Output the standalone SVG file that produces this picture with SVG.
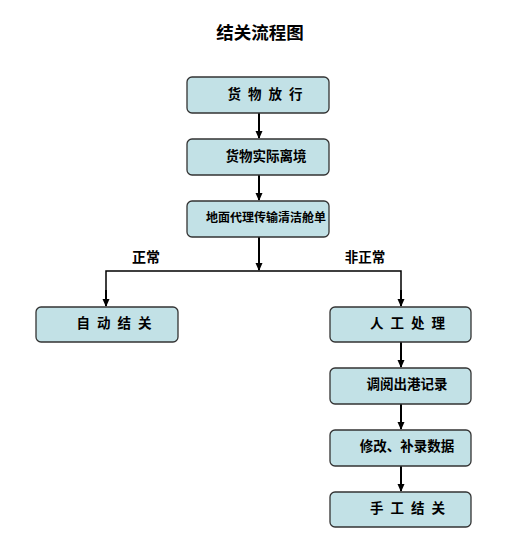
<svg xmlns="http://www.w3.org/2000/svg" width="523" height="560" viewBox="0 0 523 560">
<style>
.box{fill:#c2e1e6;stroke:#333;stroke-width:1.3}
.t{font-family:"Liberation Sans","Noto Sans CJK SC",sans-serif;font-weight:bold;font-size:13.5px;fill:#000;text-anchor:middle;dominant-baseline:central}
.sp{letter-spacing:7px}
.ln{stroke:#000;stroke-width:2;fill:none}
</style>
<defs>
<marker id="ah" markerWidth="8" markerHeight="8" refX="7" refY="4" orient="auto" markerUnits="userSpaceOnUse">
<path d="M0,0.5 L8,4 L0,7.5 z" fill="#000"/>
</marker>
</defs>
<rect width="523" height="560" fill="#fff"/>
<text x="260" y="33" class="t" style="font-size:17.5px">结关流程图</text>
<g id="connectors">
<line class="ln" x1="259" y1="113" x2="259" y2="138" marker-end="url(#ah)"/>
<line class="ln" x1="259" y1="175" x2="259" y2="200" marker-end="url(#ah)"/>
<line class="ln" x1="259" y1="237" x2="259" y2="270" marker-end="url(#ah)"/>
<polyline class="ln" points="106,306 106,271 401,271 401,306" style="stroke-width:1.5"/>
<line class="ln" x1="106" y1="290" x2="106" y2="306" marker-end="url(#ah)"/>
<line class="ln" x1="401" y1="290" x2="401" y2="306" marker-end="url(#ah)"/>
<line class="ln" x1="401" y1="342" x2="401" y2="367" marker-end="url(#ah)"/>
<line class="ln" x1="401" y1="404" x2="401" y2="429" marker-end="url(#ah)"/>
<line class="ln" x1="401" y1="466" x2="401" y2="491" marker-end="url(#ah)"/>
<text x="146" y="257" class="t" style="font-size:14px">正常</text>
<text x="365" y="257" class="t">非正常</text>
</g>
<g id="n1"><rect class="box" x="187" y="77" width="142" height="36" rx="5"/><text x="268.5" y="94" class="t sp">货物放行</text></g>
<g id="n2"><rect class="box" x="187" y="139" width="142" height="36" rx="5"/><text x="266" y="156" class="t">货物实际离境</text></g>
<g id="n3"><rect class="box" x="187" y="201" width="142" height="36" rx="5"/><text x="266" y="218" class="t" style="font-size:12px">地面代理传输清洁舱单</text></g>
<g id="n4"><rect class="box" x="36" y="307" width="142" height="35" rx="5"/><text x="117.5" y="323" class="t sp">自动结关</text></g>
<g id="n5"><rect class="box" x="330" y="307" width="141" height="35" rx="5"/><text x="411" y="323" class="t sp">人工处理</text></g>
<g id="n6"><rect class="box" x="330" y="368" width="141" height="36" rx="5"/><text x="407" y="384" class="t">调阅出港记录</text></g>
<g id="n7"><rect class="box" x="330" y="430" width="141" height="36" rx="5"/><text x="407" y="446" class="t">修改、补录数据</text></g>
<g id="n8"><rect class="box" x="330" y="492" width="141" height="35" rx="5"/><text x="411" y="508" class="t sp">手工结关</text></g>
</svg>
